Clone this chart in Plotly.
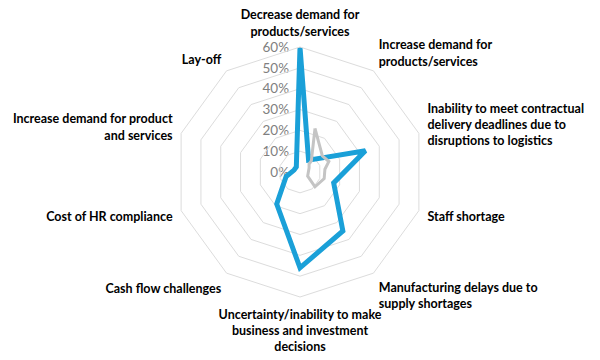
import plotly.graph_objects as go

categories = [
    "Decrease demand for<br>products/services",
    "Increase demand for<br>products/services",
    "Inability to meet contractual<br>delivery deadlines due to<br>disruptions to logistics",
    "Staff shortage",
    "Manufacturing delays due to<br>supply shortages",
    "Uncertainty/inability to make<br>business and investment<br>decisions",
    "Cash flow challenges",
    "Cost of HR compliance",
    "Increase demand for product<br>and services",
    "Lay-off",
]
blue_values = [60, 7, 33, 17, 35, 46, 19, 7, 3, 3]
gray_values = [18, 6, 7, 5, 7.5, 10, 6, 3, 3, 3]
tick_vals = [0, 10, 20, 30, 40, 50, 60]
tick_text = ["0%", "10%", "20%", "30%", "40%", "50%", "60%"]

fig = go.Figure()
fig.add_trace(go.Scatterpolar(
    r=blue_values + blue_values[:1],
    theta=categories + categories[:1],
    mode="lines",
    line=dict(color="#1aa0d8", width=5),
    subplot="polar",
    showlegend=False,
    hoverinfo="skip",
))
fig.add_trace(go.Scatterpolar(
    r=gray_values + gray_values[:1],
    theta=categories + categories[:1],
    mode="lines",
    line=dict(color="#c4c4c4", width=3),
    subplot="polar2",
    showlegend=False,
    hoverinfo="skip",
))
# invisible helper trace so the cartesian value axis (radial tick labels) is drawn
fig.add_trace(go.Scatter(x=[0, 0], y=[tick_vals[0], tick_vals[-1]], mode="lines",
                         line=dict(width=0), showlegend=False, hoverinfo="skip"))

# page body has an 8px margin: shift domains to compensate
cx, cy, R = 292, 164, 125
fig.update_layout(
    width=600, height=360,
    margin=dict(l=0, r=0, t=0, b=0, autoexpand=False),
    paper_bgcolor="white",
    plot_bgcolor="rgba(0,0,0,0)",
    font=dict(family="Lato", color="#000000"),
    xaxis=dict(visible=False, automargin=False, domain=[(cx - 1) / 600, (cx + 1) / 600]),
    yaxis=dict(
        domain=[(360 - cy) / 360, (360 - cy + R) / 360],
        range=[tick_vals[0], tick_vals[-1]],
        tickvals=tick_vals,
        ticktext=tick_text,
        anchor="free",
        position=cx / 600,
        side="left",
        automargin=False,
        showgrid=False, zeroline=False, showline=False,
        ticks="",
        ticklabelstandoff=11,
        tickfont=dict(family="Lato", size=13.5, color="#808080"),
    ),
    polar=dict(
        domain=dict(x=[(cx - R) / 600, (cx + R) / 600],
                    y=[(360 - cy - R) / 360, (360 - cy + R) / 360]),
        bgcolor="rgba(0,0,0,0)",
        gridshape="linear",
        radialaxis=dict(
            range=[tick_vals[0], tick_vals[-1]],
            tickvals=tick_vals,
            angle=90,
            showticklabels=False,
            showline=False,
            ticks="",
            gridcolor="#dcdcdc",
            gridwidth=1,
        ),
        angularaxis=dict(
            categoryarray=categories,
            categoryorder="array",
            rotation=90,
            direction="clockwise",
            showgrid=False,
            showline=True,
            linecolor="#dcdcdc",
            linewidth=1,
            ticks="outside",
            ticklen=6,
            tickcolor="rgba(0,0,0,0)",
            tickfont=dict(family="Lato", size=12.5, color="#000000", weight="bold"),
        ),
    ),
    polar2=dict(
        domain=dict(x=[(cx + 15 - R) / 600, (cx + 15 + R) / 600],
                    y=[(360 - cy + 6 - R) / 360, (360 - cy + 6 + R) / 360]),
        bgcolor="rgba(0,0,0,0)",
        gridshape="linear",
        radialaxis=dict(range=[tick_vals[0], tick_vals[-1]], visible=False, showgrid=False),
        angularaxis=dict(
            categoryarray=categories,
            categoryorder="array",
            rotation=90,
            direction="clockwise",
            visible=False,
            showgrid=False,
            showline=False,
        ),
    ),
)

fig.write_html("out.html")
